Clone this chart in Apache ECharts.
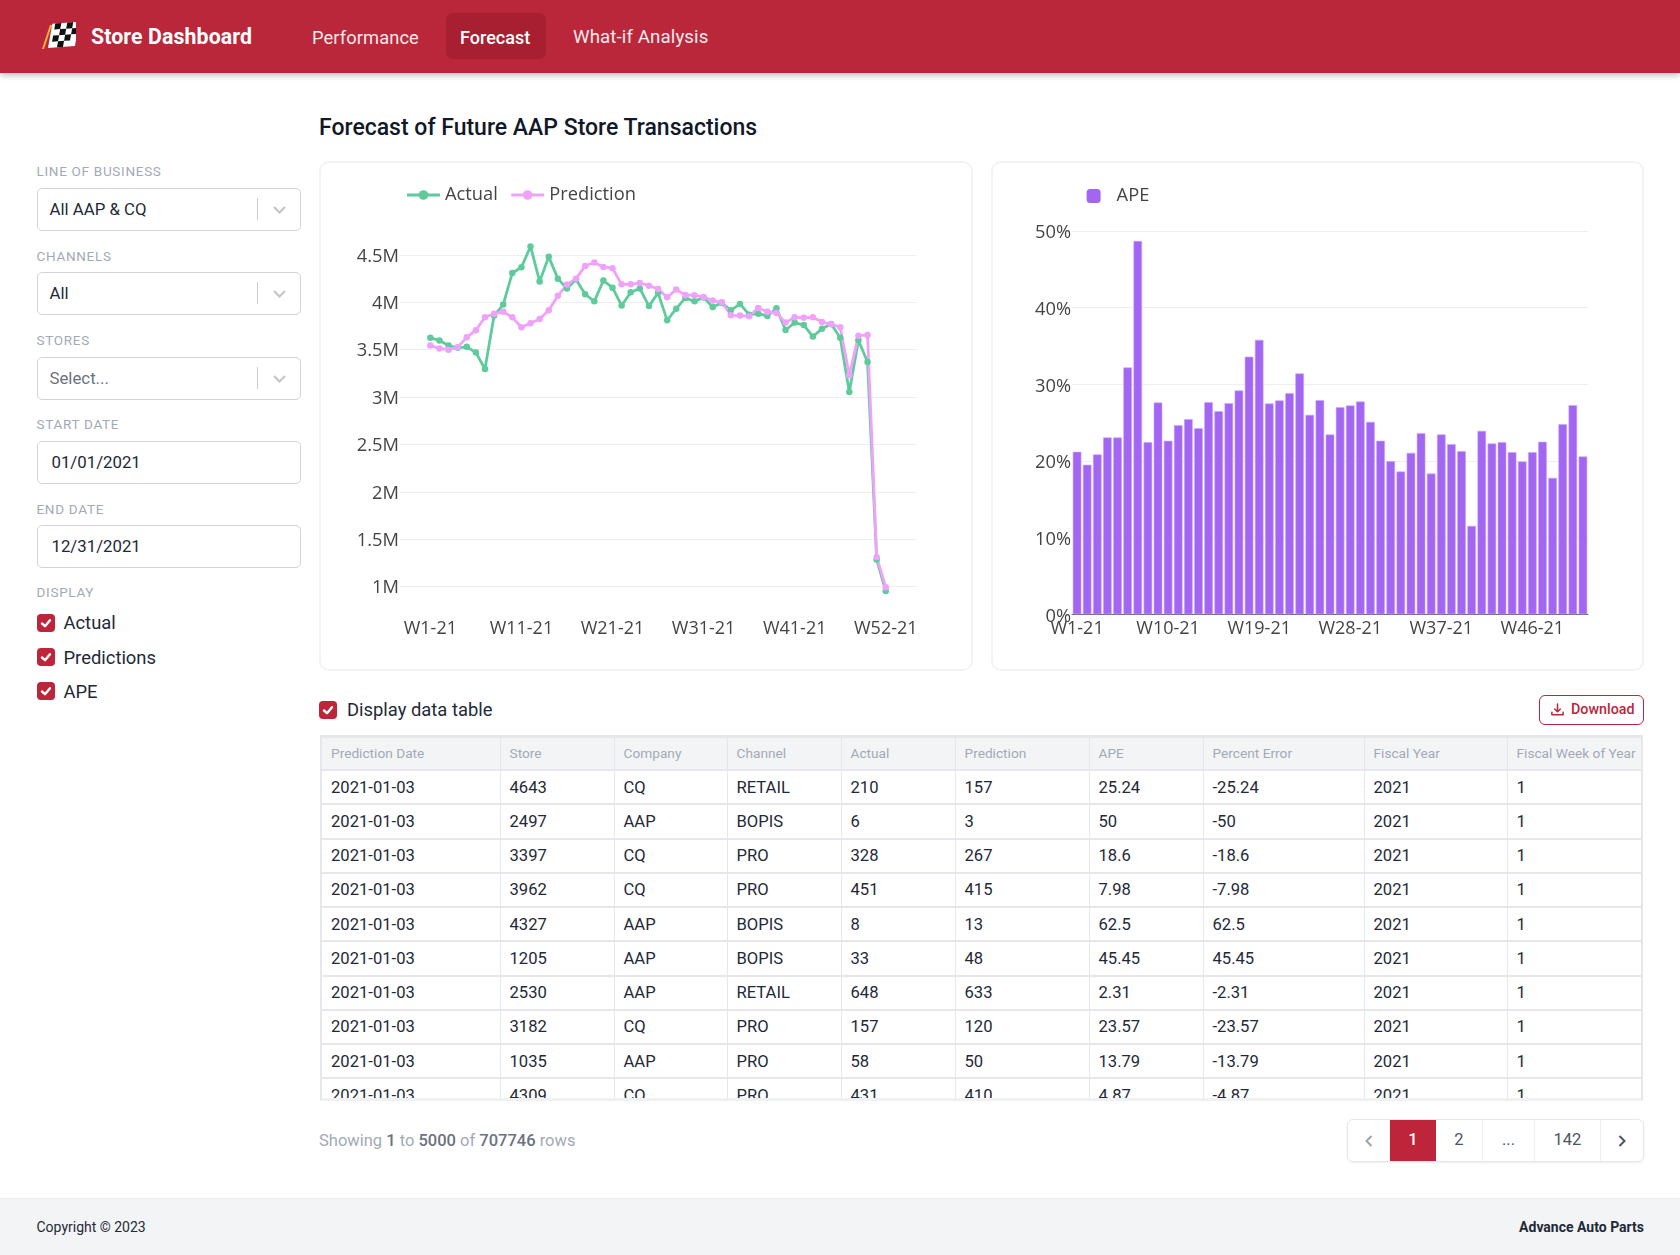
<!DOCTYPE html>
<html><head><meta charset="utf-8"><title>Store Dashboard</title>
<script src="https://cdn.jsdelivr.net/npm/echarts@6/dist/echarts.min.js"></script>
<style>
*{box-sizing:border-box}
html,body{margin:0;padding:0;background:#fff}
body{width:1680px;height:1255px;position:relative;overflow:hidden;font-family:Roboto,'Noto Sans',sans-serif;color:#1f2937}
.abs{position:absolute}
#nav{left:0;top:0;width:1680px;height:73px;background:#ba263a;box-shadow:0 2px 6px rgba(0,0,0,.28);color:#fff}
#brand{left:91px;top:0;line-height:73px;font-size:21.3px;font-weight:700;letter-spacing:.1px}
.navi{top:.5px;line-height:73px;font-size:18.3px;color:#fbe9eb;letter-spacing:.1px}
#pill{left:446px;top:13px;width:100px;height:46px;background:#a91f32;border-radius:7px}
#title{left:319px;top:113px;font-size:23px;font-weight:500;color:#111827;line-height:30px}
.lab{left:36.5px;font-size:13.5px;color:#a3aab5;letter-spacing:.7px;line-height:16px;font-weight:400}
.box{left:36.5px;width:264.5px;height:43px;border:1.5px solid #d1d5db;border-radius:5px;background:#fff;font-size:16.8px;line-height:40.5px;padding-left:12px;color:#1f2937}
.box.ph{color:#6b7280}
.box.date{padding-left:14px}
.box .sep{position:absolute;right:42px;top:9px;width:1px;height:22px;background:#ccc}
.box svg{position:absolute;right:13px;top:13px}
.cb{width:18px;height:18px;border-radius:4px;background:#be253a}
.cb svg{display:block}
.cbt{font-size:18.4px;line-height:24px;color:#1f2937}
.card{background:#fff;border:2px solid #f2f3f5;border-radius:10px}
#dl{left:1539px;top:695px;width:105px;height:30px;border:1.5px solid #be253a;border-radius:6px;color:#be253a;font-size:14.3px;font-weight:500;line-height:27px;padding-left:31px}
#dl svg{position:absolute;left:10px;top:6px}
#wrap{left:320px;top:735px;width:1323px;height:366px;overflow:hidden;border:2px solid #e5e7eb;border-top:3px solid #e5e7eb;border-bottom:3px solid #f0f1f3}
table{border-collapse:collapse;table-layout:fixed;width:1321px}
th{height:32px;background:#f3f4f6;color:#a3aab5;font-weight:400;font-size:13.7px;text-align:left;padding:0 0 2px 9px;border-right:1.5px solid #e5e7eb;border-bottom:2px solid #e5e7eb;white-space:nowrap;overflow:hidden}
td{height:34.25px;font-size:16.6px;color:#1f2937;padding:0 0 0 9px;border-right:1.5px solid #e5e7eb;border-bottom:2px solid #e5e7eb;white-space:nowrap}
th:last-child,td:last-child{border-right:0}
#show{left:319px;top:1130px;font-size:16.5px;color:#a3aab5;line-height:22px}
#show b{color:#6b7280;font-weight:500}
#pager{left:1347px;top:1119px;width:297px;height:43px;border:1.5px solid #e5e7eb;border-radius:6px;box-shadow:0 1px 2px rgba(0,0,0,.08);overflow:hidden;display:flex;font-size:16.5px;color:#4b5563;line-height:40px;text-align:center}
#pager div{border-right:1.5px solid #eceef1}
#pager div:last-child{border-right:0}
#pager .on{background:#be253a;color:#fff;border-right:0}
#pager svg{vertical-align:middle}
#foot{left:0;top:1198px;width:1680px;height:57px;background:#f3f4f6;border-top:1.5px solid #ececef;font-size:14px;line-height:56px;color:#1f2937}
</style></head><body>
<div id="nav" class="abs">
 <svg class="abs" style="left:40px;top:21px" width="36" height="30" viewBox="0 0 36 30">
  <polygon points="2,28 4,28 12,4 10,4" fill="#f0b43c"/>
  <g transform="translate(8,27) rotate(-4) skewX(-14)">
   <rect x="0" y="-24" width="27" height="24" fill="#fff"/>
   <g fill="#111"><rect x="3" y="-24" width="6" height="6"/><rect x="15" y="-24" width="6" height="6"/><rect x="9" y="-18" width="6" height="6"/><rect x="21" y="-18" width="6" height="6"/><rect x="3" y="-12" width="6" height="6"/><rect x="15" y="-12" width="6" height="6"/><rect x="9" y="-6" width="6" height="6"/></g>
  </g>
 </svg>
 <div id="brand" class="abs">Store Dashboard</div>
 <div id="pill" class="abs"></div>
 <div class="abs navi" style="left:312px">Performance</div>
 <div class="abs navi" style="left:460px;color:#fff;font-weight:500;font-size:18px;letter-spacing:0">Forecast</div>
 <div class="abs navi" style="left:573px;font-size:18.7px">What-if Analysis</div>
</div>
<div id="title" class="abs">Forecast of Future AAP Store Transactions</div>
<div id="side"></div>
<div class="abs card" style="left:319px;top:161px;width:654px;height:510px"></div>
<div class="abs card" style="left:991px;top:161px;width:653px;height:510px"></div>
<div id="lineChart" class="abs" style="left:320px;top:162px;width:652px;height:508px"></div>
<div id="barChart" class="abs" style="left:992px;top:162px;width:651px;height:508px"></div>
<div class="abs cb" style="left:319px;top:701px" id="cbT"></div>
<div class="abs cbt" style="left:347px;top:698px">Display data table</div>
<div id="dl" class="abs"><svg width="15" height="15" viewBox="0 0 16 16" fill="none" stroke="#be253a" stroke-width="1.6" stroke-linecap="round" stroke-linejoin="round"><path d="M8 2v8M5 7.5 8 10.5 11 7.5M2 11v2.5h12V11"/></svg>Download</div>
<div id="wrap" class="abs"><table id="tb"></table></div>
<div id="show" class="abs">Showing <b>1</b> to <b>5000</b> of <b>707746</b> rows</div>
<div id="pager" class="abs">
 <div style="width:42px;color:#9ca3af"><svg width="10" height="14" viewBox="0 0 10 14" fill="none" stroke="#9ca3af" stroke-width="2"><path d="M7.5 2 2.5 7l5 5"/></svg></div>
 <div class="on" style="width:46px;font-weight:500">1</div>
 <div style="width:47px">2</div>
 <div style="width:52px">...</div>
 <div style="width:66px">142</div>
 <div style="width:42px"><svg width="10" height="14" viewBox="0 0 10 14" fill="none" stroke="#4b5563" stroke-width="2"><path d="M2.5 2l5 5-5 5"/></svg></div>
</div>
<div id="foot" class="abs"><span class="abs" style="left:36.5px">Copyright © 2023</span><span class="abs" style="right:36px;font-weight:700;white-space:nowrap">Advance Auto Parts</span></div>
<script>
// ---- chart data ----
const weeks = ['W1-21','W2-21','W3-21','W4-21','W5-21','W6-21','W7-21','W8-21','W9-21','W10-21','W11-21','W12-21','W13-21','W14-21','W15-21','W16-21','W17-21','W18-21','W19-21','W20-21','W21-21','W22-21','W23-21','W24-21','W25-21','W26-21','W27-21','W28-21','W29-21','W30-21','W31-21','W32-21','W33-21','W34-21','W35-21','W36-21','W37-21','W38-21','W39-21','W40-21','W41-21','W42-21','W43-21','W44-21','W45-21','W46-21','W47-21','W48-21','W49-21','W50-21','W52-21'];
const actual = [3.625,3.597,3.544,3.52,3.53,3.47,3.295,3.86,3.976,4.31,4.37,4.59,4.22,4.48,4.25,4.145,4.24,4.085,4.01,4.23,4.155,3.966,4.105,4.145,3.96,4.10,3.81,3.933,4.046,4.01,4.05,3.95,3.993,3.916,3.983,3.87,3.88,3.856,3.937,3.708,3.786,3.76,3.638,3.722,3.772,3.627,3.054,3.60,3.37,1.284,0.953];
const prediction = [3.544,3.513,3.50,3.527,3.63,3.706,3.843,3.88,3.90,3.843,3.737,3.78,3.825,3.917,4.068,4.187,4.25,4.384,4.42,4.373,4.36,4.19,4.19,4.205,4.176,4.14,4.053,4.134,4.078,4.074,4.057,4.018,4.0,3.863,3.86,3.853,3.94,3.90,3.888,3.786,3.842,3.838,3.842,3.793,3.768,3.736,3.23,3.648,3.656,1.312,0.992];
const ape = [21.2,19.5,20.85,23.06,23.06,32.2,48.7,22.45,27.63,22.63,24.67,25.46,24.28,27.68,26.5,27.55,29.2,33.6,35.8,27.5,27.9,28.85,31.42,26.02,27.94,23.46,27.02,27.24,27.76,25.1,22.63,19.97,18.62,21.06,23.63,18.36,23.46,22.19,21.28,11.53,23.93,22.28,22.45,21.15,19.93,21.15,22.5,17.8,24.8,27.28,20.58];
const lineXTicks = [0,10,20,30,40,50];
const lineYTicks = [1,1.5,2,2.5,3,3.5,4,4.5];
// ---- table data ----
const tableHeaders = ['Prediction Date','Store','Company','Channel','Actual','Prediction','APE','Percent Error','Fiscal Year','Fiscal Week of Year'];
const tableRows = [
 ['2021-01-03','4643','CQ','RETAIL','210','157','25.24','-25.24','2021','1'],
 ['2021-01-03','2497','AAP','BOPIS','6','3','50','-50','2021','1'],
 ['2021-01-03','3397','CQ','PRO','328','267','18.6','-18.6','2021','1'],
 ['2021-01-03','3962','CQ','PRO','451','415','7.98','-7.98','2021','1'],
 ['2021-01-03','4327','AAP','BOPIS','8','13','62.5','62.5','2021','1'],
 ['2021-01-03','1205','AAP','BOPIS','33','48','45.45','45.45','2021','1'],
 ['2021-01-03','2530','AAP','RETAIL','648','633','2.31','-2.31','2021','1'],
 ['2021-01-03','3182','CQ','PRO','157','120','23.57','-23.57','2021','1'],
 ['2021-01-03','1035','AAP','PRO','58','50','13.79','-13.79','2021','1'],
 ['2021-01-03','4309','CQ','PRO','431','410','4.87','-4.87','2021','1']
];
const colWidths = [178,114,113,114,114,134,114,161,143,136];

// ---- page furniture ----
const check = '<svg width="18" height="18" viewBox="0 0 18 18" fill="none" stroke="#fff" stroke-width="2.4" stroke-linecap="round" stroke-linejoin="round"><path d="M5 9.5 8 12.2 13 6.2"/></svg>';
const chev = '<svg width="15" height="15" viewBox="0 0 15 15" fill="none" stroke="#c4c4c4" stroke-width="2"><path d="M2 5 7.5 10.5 13 5"/></svg>';
const fields = [['LINE OF BUSINESS',163,'All AAP & CQ',188,'sel'],['CHANNELS',248,'All',272,'sel'],['STORES',332,'Select...',357,'ph'],['START DATE',416,'01/01/2021',441,'date'],['END DATE',501,'12/31/2021',525,'date']];
let h='';
fields.forEach(f=>{
 h+=`<div class="abs lab" style="top:${f[1]}px">${f[0]}</div>`;
 h+=`<div class="abs box ${f[4]}" style="top:${f[3]}px">${f[2].replace('&','&amp;')}${f[4]!=='date'?'<span class="sep"></span>'+chev:''}</div>`;
});
h+=`<div class="abs lab" style="top:584px">DISPLAY</div>`;
[['Actual',613.5],['Predictions',648],['APE',682]].forEach(c=>{
 h+=`<div class="abs cb" style="left:36.5px;top:${c[1]}px">${check}</div><div class="abs cbt" style="left:63.5px;top:${c[1]-2.5}px">${c[0]}</div>`;
});
document.getElementById('side').innerHTML=h;
document.getElementById('cbT').innerHTML=check;
document.getElementById('tb').innerHTML='<colgroup>'+colWidths.map(w=>`<col style="width:${w}px">`).join('')+'</colgroup><tr>'+tableHeaders.map(t=>`<th>${t}</th>`).join('')+'</tr>'+tableRows.map(r=>'<tr>'+r.map(c=>`<td>${c}</td>`).join('')+'</tr>').join('');

// ---- charts ----
const AXC='#444', FF="'Open Sans',sans-serif", GRID='#eeeeee';
const line = echarts.init(document.getElementById('lineChart'),null,{renderer:'canvas'});
line.setOption({
 animation:false,
 legend:{left:80.6,top:19,itemWidth:33,itemHeight:12,itemGap:12,lineStyle:{width:2.8},textStyle:{color:AXC,fontFamily:FF,fontSize:18.3},data:['Actual','Prediction']},
 grid:{left:80,right:55,top:74,bottom:74},
 xAxis:{type:'value',min:-3.33,max:53.43,axisLine:{show:false},axisTick:{show:false,customValues:lineXTicks},splitLine:{show:false},
  axisLabel:{customValues:lineXTicks,color:AXC,fontFamily:FF,fontSize:18,margin:24,formatter:v=>weeks[v]}},
 yAxis:{type:'value',min:0.9,max:4.7,axisLine:{show:false},axisTick:{show:false,customValues:lineYTicks},
  splitLine:{show:true,lineStyle:{color:GRID,width:1}},
  axisLabel:{customValues:lineYTicks,color:AXC,fontFamily:FF,fontSize:18.3,margin:1,verticalAlign:'top',lineHeight:3,formatter:v=>v+'M'}},
 series:[
  {name:'Actual',type:'line',data:actual.map((v,i)=>[i,v]),symbol:'circle',symbolSize:6.5,clip:false,lineStyle:{width:2.8,color:'#5fcb9c'},itemStyle:{color:'#5fcb9c'}},
  {name:'Prediction',type:'line',data:prediction.map((v,i)=>[i,v]),symbol:'circle',symbolSize:6.5,clip:false,lineStyle:{width:2.8,color:'#f0a2fa'},itemStyle:{color:'#f0a2fa'}}
 ]
});
const bar = echarts.init(document.getElementById('barChart'),null,{renderer:'canvas'});
bar.setOption({
 animation:false,
 legend:{left:89.6,top:20,itemWidth:14,itemHeight:14,itemStyle:{borderWidth:0},textStyle:{color:AXC,fontFamily:FF,fontSize:18.3,padding:[0,0,0,11]},data:['APE']},
 grid:{left:80,right:55,top:69,bottom:55.7},
 xAxis:{type:'category',data:weeks,axisLine:{show:true,lineStyle:{color:'#666',width:1}},axisTick:{show:false},
  axisLabel:{interval:8,color:AXC,fontFamily:FF,fontSize:18,margin:6,hideOverlap:false}},
 yAxis:{type:'value',min:0,max:50,interval:10,axisLine:{show:false},axisTick:{show:false},
  splitLine:{show:true,lineStyle:{color:GRID,width:1}},
  axisLabel:{color:AXC,fontFamily:FF,fontSize:18.3,margin:1,verticalAlign:'top',lineHeight:4,formatter:v=>v+'%'}},
 series:[{name:'APE',type:'bar',data:ape,barWidth:8.6,itemStyle:{color:'#a366f2',borderColor:'#c9a6f8',borderWidth:0.6}}]
});
</script>
</body></html>
